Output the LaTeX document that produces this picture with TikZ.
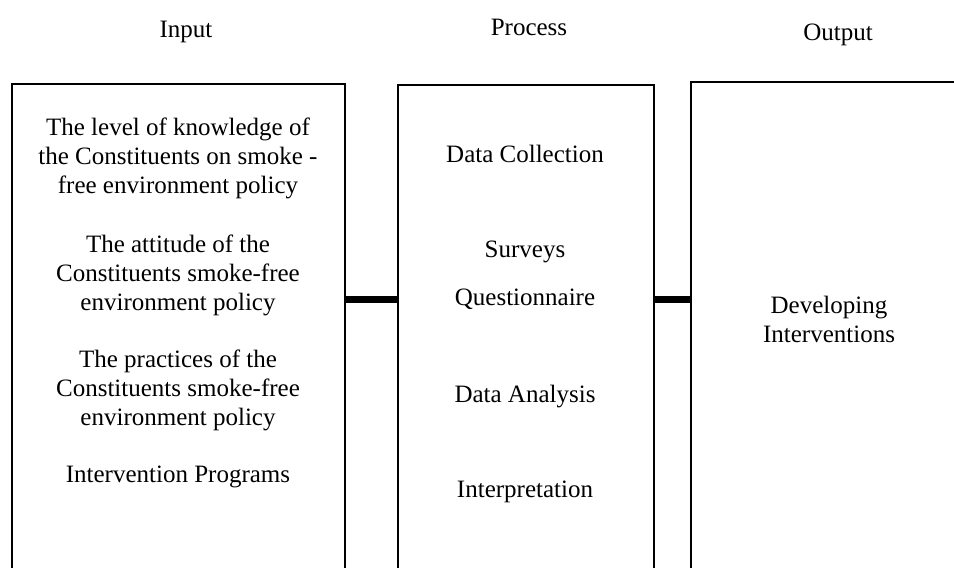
\documentclass[tikz,border=0pt]{standalone}
\usepackage{fontspec}
\setmainfont{Liberation Serif}
\usepackage{tikz}

\tikzset{
  box/.style={draw, line width=2pt, anchor=north west, inner sep=0pt},
  txt/.style={font=\fontsize{25}{29}\selectfont, align=center, inner sep=0pt},
  link/.style={line width=7pt},
}

\begin{document}
\begin{tikzpicture}[x=1pt,y=-1pt]
\useasboundingbox (0,0) rectangle (954,568);
% headings
\node[txt,anchor=base] (hin)  at (186,37) {Input};
\node[txt,anchor=base] (hpro) at (529,35) {Process};
\node[txt,anchor=base] (hout) at (838,40) {Output};
% boxes (they run past the lower edge)
\node[box,minimum width=333pt,minimum height=560pt] (input)   at (11,83)  {};
\node[box,minimum width=256pt,minimum height=560pt] (process) at (397,84) {};
\node[box,minimum width=280pt,minimum height=560pt] (output)  at (690,81) {};
% input side
\node[txt] (know) at (178,158) {The level of knowledge of\\the Constituents on smoke -\\free environment policy};
\node[txt] (att)  at (178,275) {The attitude of the\\Constituents smoke-free\\environment policy};
\node[txt] (prac) at (178,390) {The practices of the\\Constituents smoke-free\\environment policy};
\node[txt,anchor=base] (prog) at (178,482) {Intervention Programs};
% process side
\node[txt,anchor=base] (coll)  at (525,162) {Data Collection};
\node[txt,anchor=base] (surv)  at (525,257) {Surveys};
\node[txt,anchor=base] (quest) at (525,305) {Questionnaire};
\node[txt,anchor=base] (anal)  at (525,402) {Data Analysis};
\node[txt,anchor=base] (intp)  at (525,497) {Interpretation};
% output side
\node[txt] (dev) at (829,319) {Developing\\Interventions};
% thick bars between the boxes
\coordinate (bar) at (0,299.5);
\draw[link] (input.east |- bar) -- (process.west |- bar);
\draw[link] (process.east |- bar) -- (output.west |- bar);
\end{tikzpicture}
\end{document}
